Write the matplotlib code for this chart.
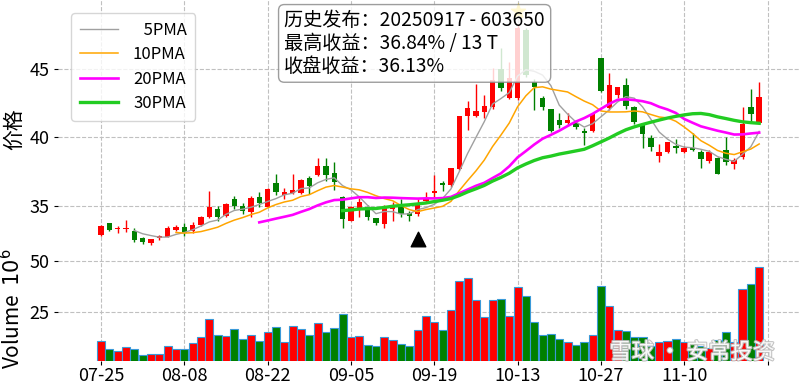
import numpy as np
import pandas as pd
import matplotlib
matplotlib.use("Agg")
import matplotlib.pyplot as plt
import matplotlib.patheffects as pe

plt.rcParams['font.family'] = ['Noto Sans CJK SC', 'DejaVu Sans']
plt.rcParams['axes.unicode_minus'] = False

# daily candles, 2025-07-25 .. 2025-11-21 (80 trading days)
opens = [32.88, 33.73, 33.30, 33.30, 33.17, 32.63, 32.31, 32.66, 32.75, 33.24,
         33.44, 33.19, 33.61, 34.17, 34.80, 34.30, 35.48, 34.99, 34.58, 35.63,
         34.94, 36.69, 35.80, 35.92, 35.96, 37.01, 37.26, 37.91, 37.42, 35.63,
         33.92, 34.70, 34.94, 34.09, 33.68, 34.75, 34.94, 34.50, 34.39, 35.36,
         35.92, 36.65, 36.53, 37.69, 41.56, 41.56, 41.88, 42.20, 44.97, 42.85,
         42.85, 47.84, 44.07, 42.85, 42.05, 41.27, 41.07, 41.07, 40.47, 40.49,
         45.77, 42.12, 43.09, 43.82, 42.20, 40.90, 39.98, 38.66, 38.96, 39.39,
         38.96, 39.20, 38.96, 38.28, 38.52, 39.08, 38.06, 38.59, 42.20, 41.07]
highs = [33.60, 33.78, 33.53, 33.97, 33.41, 32.72, 32.60, 32.90, 33.50, 33.60,
         33.73, 33.85, 34.25, 36.11, 35.00, 35.20, 35.70, 35.20, 35.70, 36.00,
         36.30, 37.33, 36.30, 37.33, 37.00, 37.20, 38.47, 38.47, 38.20, 35.70,
         35.00, 35.55, 35.10, 34.15, 35.10, 35.30, 35.50, 34.60, 35.50, 36.04,
         37.26, 36.80, 37.80, 41.60, 42.66, 43.88, 43.09, 45.04, 46.50, 45.50,
         48.24, 48.00, 44.30, 43.00, 42.10, 41.76, 41.76, 41.30, 40.70, 41.80,
         45.80, 44.68, 43.70, 44.31, 42.30, 41.00, 40.20, 39.50, 39.70, 39.90,
         39.40, 40.30, 39.10, 39.10, 38.60, 40.00, 38.50, 42.24, 43.51, 44.02]
lows = [32.80, 33.20, 33.05, 33.10, 32.39, 32.20, 32.12, 32.55, 32.70, 33.20,
        32.80, 33.00, 33.55, 34.10, 33.90, 34.20, 34.80, 34.40, 34.17, 34.90,
        34.90, 35.80, 35.50, 35.90, 35.90, 35.90, 37.20, 36.80, 36.16, 33.37,
        33.90, 34.17, 34.00, 33.60, 33.36, 33.90, 34.20, 33.90, 34.30, 35.30,
        35.60, 36.10, 36.40, 37.60, 40.54, 41.50, 41.42, 42.10, 43.40, 42.80,
        42.70, 44.40, 42.00, 42.00, 40.40, 40.66, 40.90, 40.60, 39.45, 40.40,
        43.30, 42.00, 42.90, 42.10, 41.00, 39.20, 39.00, 38.20, 38.90, 38.90,
        38.90, 39.00, 37.74, 38.10, 37.30, 38.00, 37.70, 38.40, 41.15, 41.00]
closes = [33.53, 33.24, 33.38, 33.38, 32.51, 32.34, 32.58, 32.80, 33.41, 33.48,
          33.04, 33.58, 34.17, 34.90, 34.17, 35.12, 34.99, 34.65, 35.58, 35.19,
          36.21, 36.04, 36.04, 36.16, 36.89, 36.45, 37.91, 37.26, 36.77, 34.02,
          34.94, 35.31, 34.17, 33.73, 34.82, 34.90, 34.41, 34.26, 35.25, 35.55,
          36.11, 36.53, 37.74, 41.58, 42.17, 41.95, 42.29, 44.19, 43.58, 44.35,
          47.99, 44.56, 43.66, 42.20, 40.49, 40.90, 41.27, 40.78, 40.34, 41.71,
          43.41, 43.82, 43.66, 42.29, 41.15, 40.25, 39.32, 38.96, 39.69, 39.25,
          39.25, 39.08, 38.40, 38.96, 37.33, 38.23, 38.35, 40.98, 41.71, 42.93]
# volume in millions of shares
volumes = [10.6, 6.6, 5.9, 7.7, 7.0, 3.8, 4.1, 4.1, 8.2, 6.6,
           6.6, 9.5, 12.6, 21.4, 13.4, 12.9, 16.7, 11.5, 13.4, 10.5,
           14.9, 17.3, 10.0, 17.8, 16.7, 13.4, 19.3, 15.2, 17.0, 23.7,
           12.6, 12.9, 8.7, 8.2, 12.6, 11.1, 9.2, 8.2, 15.9, 22.7,
           19.8, 15.9, 25.7, 40.0, 41.5, 30.6, 22.2, 30.6, 31.1, 22.7,
           37.3, 32.9, 19.8, 13.4, 13.9, 11.5, 10.0, 8.7, 10.0, 13.4,
           37.8, 27.9, 15.9, 15.4, 12.6, 12.6, 8.2, 10.0, 10.5, 11.8,
           10.0, 9.5, 8.2, 7.4, 11.0, 14.9, 10.0, 36.0, 38.7, 46.8]

tick_labels = ['07-25', '08-08', '08-22', '09-05', '09-19',
               '10-13', '10-27', '11-10', '']
ma_windows = [5, 10, 20, 30]
ma_labels = ['\u20075PMA', '10PMA', '20PMA', '30PMA']
signal_idx = 38   # 2025-09-17
peak_idx = 50
info_lines = ['历史发布：20250917 - 603650',
              '最高收益：36.84% / 13 T',
              '收盘收益：36.13%']

df = pd.DataFrame({'open': opens, 'high': highs, 'low': lows,
                   'close': closes, 'volume': volumes})
x = np.arange(len(df))
up = df['close'] >= df['open']
colors = np.where(up, '#ff0000', '#008000')

fig = plt.figure(figsize=(8, 3.85), dpi=100)
W, H = 800, 385
ax = fig.add_axes([58 / W, 1 - 257.6 / H, 742 / W, 257.6 / H])
axv = fig.add_axes([58 / W, 1 - 360.5 / H, 742 / W, (360.5 - 257.6) / H], sharex=ax)

# candles
ax.vlines(x, df['low'], df['high'], colors=colors, linewidth=1.0, zorder=2)
body_low = np.minimum(df['open'], df['close'])
body_h = (df['close'] - df['open']).abs().clip(lower=0.06)
ax.bar(x, body_h, bottom=body_low, width=0.65, color=colors, linewidth=0, zorder=3)

# moving averages
ma_colors = ['#a0a0a0', '#ffa500', '#ff00ff', '#22cc22']
ma_widths = [1.0, 1.1, 1.9, 2.4]
for w, lab, c, lw in zip(ma_windows, ma_labels, ma_colors, ma_widths):
    ma = df['close'].rolling(w).mean()
    ax.plot(x, ma, color=c, linewidth=lw, label=lab, zorder=4)

# signal markers
ax.scatter([signal_idx], [df['low'][signal_idx] * 0.95], marker='^', s=110,
           color='black', zorder=5)
ax.scatter([peak_idx], [df['high'][peak_idx] * 1.02], marker='*', s=110,
           color='#ffd700', zorder=5)

ax.set_xlim(-5.16, 83.9)
ax.set_ylim(31.23, 50.03)
ax.set_yticks([35, 40, 45])
ax.set_ylabel('价格', fontsize=15, labelpad=3)
ax.grid(True, linestyle='--', color='#c0c0c0', linewidth=0.8)
ax.set_axisbelow(True)
ax.tick_params(axis='x', labelbottom=False, length=0)
ax.tick_params(axis='y', labelsize=13, length=3, pad=3)

leg = ax.legend(loc='upper left', bbox_to_anchor=(0.0, 1.0), fontsize=12,
                handlelength=2.3, labelspacing=0.45, borderaxespad=0.8,
                borderpad=0.5, handletextpad=0.9, fancybox=True)
leg.get_frame().set_edgecolor('#cccccc')

ax.text(0.305, 0.96, '\n'.join(info_lines), transform=ax.transAxes,
        fontsize=13.8, va='top', ha='left', linespacing=1.1, zorder=10,
        bbox=dict(boxstyle='round,pad=0.3', facecolor='white', alpha=0.82,
                  edgecolor='#888888'))

# volume
axv.bar(x, df['volume'], width=0.97, color=colors, edgecolor='#3a9ad9',
        linewidth=0.8, zorder=3)
axv.set_ylim(0.3 * df['volume'].min(), 1.1 * df['volume'].max())
axv.set_yticks([25, 50])
axv.set_ylabel('Volume  $10^{6}$', fontsize=15, labelpad=3)
axv.grid(True, linestyle='--', color='#c0c0c0', linewidth=0.8)
axv.set_axisbelow(True)
axv.set_xticks(np.arange(0, 81, 10))
axv.set_xticklabels(tick_labels)
axv.tick_params(axis='x', labelsize=13, length=3, pad=2)
axv.tick_params(axis='y', labelsize=13, length=3, pad=3)

for a in (ax, axv):
    for s in a.spines.values():
        s.set_visible(False)

# watermark
fig.text(0.969, 0.085, '雪球 · 安常投资', ha='right', va='center', fontsize=16,
         color='white', alpha=0.9,
         path_effects=[pe.withStroke(linewidth=1.5, foreground='#bbbbbb')])

fig.savefig('out.png', dpi=100)
